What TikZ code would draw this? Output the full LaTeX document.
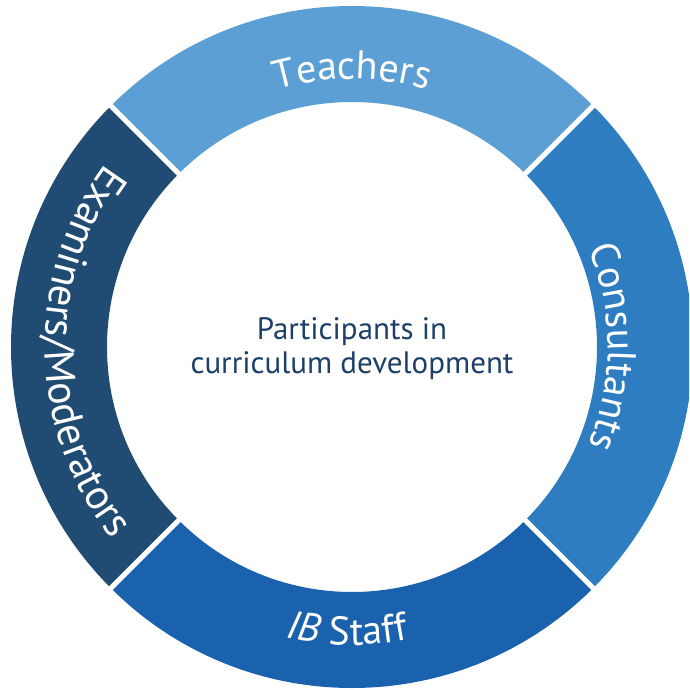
\documentclass[tikz,border=0pt]{standalone}
\usepackage{fontspec}
\setmainfont{PT Sans}
\usetikzlibrary{decorations.text}
\definecolor{cTeach}{HTML}{5B9FD5}
\definecolor{cCons}{HTML}{2F7DC1}
\definecolor{cStaff}{HTML}{1A62AD}
\definecolor{cExam}{HTML}{204C74}
\definecolor{cText}{HTML}{1E3F68}
\newcommand\ringfont{\fontsize{40}{48}\selectfont}
\newcommand\examfont{\fontsize{42}{50}\selectfont}
\tikzset{
  sector/.style={fill=#1},
  gapline/.style={white,line width=5pt},
  ringlabel/.style={decorate,decoration={text along path,text={#1},text align=center,text color=white}}
}
\begin{document}
\begin{tikzpicture}[x=1pt,y=1pt]
\useasboundingbox (-352,-343) rectangle (337,347);
\clip (-352,-343) rectangle (337,347);
\def\R{341}\def\r{245}
% sectors
\fill[sector=cTeach] (45:\R) arc[start angle=45,end angle=135,radius=\R] -- (135:\r) arc[start angle=135,end angle=45,radius=\r] -- cycle;
\fill[sector=cExam] (135:\R) arc[start angle=135,end angle=225,radius=\R] -- (225:\r) arc[start angle=225,end angle=135,radius=\r] -- cycle;
\fill[sector=cStaff] (225:\R) arc[start angle=225,end angle=315,radius=\R] -- (315:\r) arc[start angle=315,end angle=225,radius=\r] -- cycle;
\fill[sector=cCons] (-45:\R) arc[start angle=-45,end angle=45,radius=\R] -- (45:\r) arc[start angle=45,end angle=-45,radius=\r] -- cycle;
% gaps
\foreach \a in {45,135,225,315} \draw[gapline] (\a:230) -- (\a:360);
% labels
\path[ringlabel={|\ringfont|Teachers}] (130:268) arc[start angle=130,end angle=50,radius=268];
\path[ringlabel={|\ringfont|Consultants}] (40:256) arc[start angle=40,end angle=-40,radius=256];
\path[ringlabel={|\ringfont\itshape|IB |\ringfont|Staff}] (228:298) arc[start angle=228,end angle=310,radius=298];
\path[ringlabel={|\examfont|Examiners/Moderators}] (130:307) arc[start angle=130,end angle=232,radius=307];
% centre
\node[text=cText,font=\fontsize{31}{34}\selectfont,align=center] (centre) at (0,-2) {Participants in\\curriculum development};
\end{tikzpicture}
\end{document}
